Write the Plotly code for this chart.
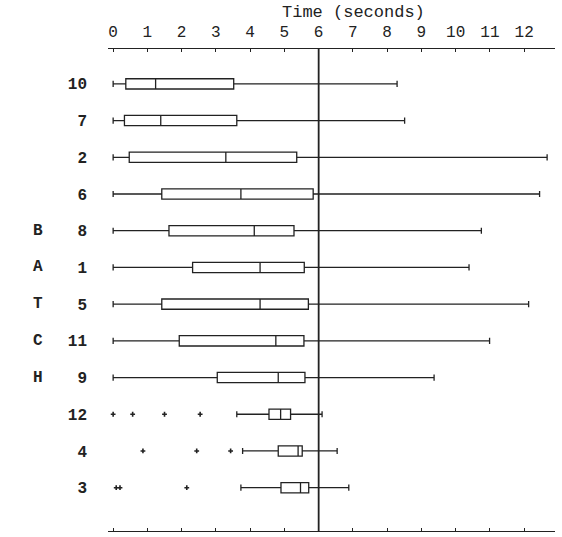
import plotly.graph_objects as go

# Batch ids, top to bottom
batches = ["10", "7", "2", "6", "8", "1", "5", "11", "9", "12", "4", "3"]
# Box statistics (seconds)
lower = [0.0, 0.0, 0.0, 0.0, 0.0, 0.0, 0.0, 0.0, 0.0, 3.61, 3.78, 3.73]
q1 = [0.37, 0.33, 0.47, 1.42, 1.63, 2.32, 1.42, 1.93, 3.04, 4.55, 4.82, 4.90]
med = [1.24, 1.39, 3.29, 3.73, 4.12, 4.29, 4.29, 4.75, 4.82, 4.89, 5.40, 5.47]
q3 = [3.52, 3.61, 5.36, 5.84, 5.28, 5.58, 5.70, 5.57, 5.60, 5.18, 5.52, 5.71]
upper = [8.29, 8.51, 12.67, 12.45, 10.75, 10.39, 12.13, 10.99, 9.37, 6.10, 6.54, 6.88]

# Outliers
out_batch = ["12", "12", "12", "12", "4", "4", "4", "3", "3", "3"]
out_time = [0.0, 0.57, 1.50, 2.54, 0.87, 2.44, 3.43, 0.09, 0.20, 2.15]

# Side label letters
side_letters = ["B", "A", "T", "C", "H"]
side_rows = ["8", "1", "5", "11", "9"]

ref_time = 6
tick_values = list(range(13))
tick_labels = [str(v) for v in tick_values]

FONT = "Liberation Mono"
INK = "#222222"

fig = go.Figure()
fig.add_trace(go.Box(
    y=batches, q1=q1, median=med, q3=q3,
    lowerfence=lower, upperfence=upper,
    orientation="h", width=0.28, whiskerwidth=0.6,
    fillcolor="white", line=dict(color=INK, width=1.3),
    boxpoints=False, hoverinfo="x", showlegend=False,
))
fig.add_trace(go.Scatter(
    x=out_time, y=out_batch, mode="markers",
    marker=dict(symbol="cross", size=4, color=INK),
    showlegend=False,
))

fig.add_shape(type="line", xref="x", yref="paper", x0=ref_time, x1=ref_time,
              y0=0, y1=1, line=dict(color=INK, width=1.8))

for letter, row in zip(side_letters, side_rows):
    fig.add_annotation(x=-0.1566, xref="paper", y=batches.index(row), yref="y",
                       text=letter, showarrow=False,
                       xanchor="center", yanchor="middle",
                       font=dict(family=FONT, size=16, color=INK, weight="bold"))

fig.add_annotation(x=0.55, xref="paper", y=1.075, yref="paper",
                   text="Time (seconds)", showarrow=False,
                   xanchor="center", yanchor="middle",
                   font=dict(family=FONT, size=17, color=INK))

fig.update_layout(
    width=562, height=537,
    margin=dict(l=108, r=7, t=49, b=6),
    paper_bgcolor="white", plot_bgcolor="white",
    font=dict(family=FONT, color=INK),
    xaxis=dict(
        range=[-0.15, 12.9], side="top",
        tickvals=tick_values, ticktext=tick_labels,
        showgrid=False, zeroline=False,
        showline=True, linecolor=INK, linewidth=1.3, mirror="ticks",
        ticks="inside", ticklen=3, tickcolor=INK,
        ticklabelstandoff=4,
        tickfont=dict(family=FONT, size=16, color=INK),
    ),
    yaxis=dict(
        type="category", categoryorder="array", categoryarray=batches,
        range=[12.18, -0.95],
        showgrid=False, zeroline=False, showline=False, ticks="",
        ticklabelstandoff=20,
        tickfont=dict(family=FONT, size=16, color=INK, weight="bold"),
    ),
)

fig.write_html("out.html")
